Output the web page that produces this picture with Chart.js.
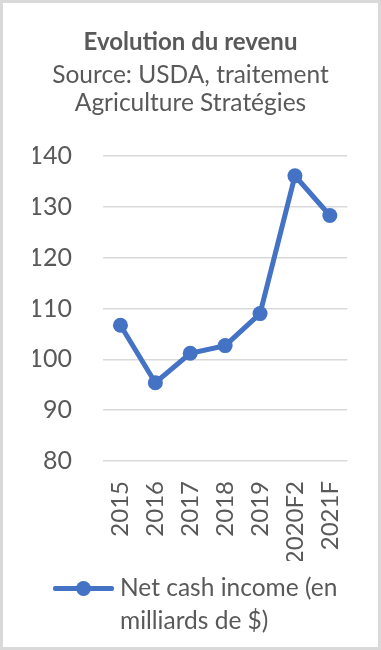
<!DOCTYPE html>
<html><head><meta charset="utf-8">
<script src="https://cdn.jsdelivr.net/npm/chart.js@4"></script>
<style>
html,body{margin:0;padding:0;background:#fff;}
#wrap{position:relative;width:381px;height:650px;overflow:hidden;}
#c{position:absolute;left:0;top:0;}
#frame{position:absolute;left:0;top:0;width:381px;height:650px;box-sizing:border-box;border:3px solid #d9d9d9;pointer-events:none;}
#legend{position:absolute;left:53px;top:570px;font-family:Lato,sans-serif;font-size:24.5px;color:#595959;}
#lgline{position:absolute;left:0;top:16px;width:61px;height:5px;background:#4472C4;border-radius:2px;}
#lgdot{position:absolute;left:23px;top:11px;width:15px;height:15px;border-radius:50%;background:#4472C4;}
#lgtext{position:absolute;left:67px;top:0;white-space:nowrap;line-height:33px;margin-top:0px;}
</style></head>
<body>
<div id="wrap">
<canvas id="c" width="381" height="650"></canvas>
<div id="legend"><div id="lgline"></div><div id="lgdot"></div><div id="lgtext">Net cash income (en<br>milliards de $)</div></div>
<div id="frame"></div>
</div>
<script>
const categories = ["2015","2016","2017","2018","2019","2020F2","2021F"];
const netCashIncome = [106.7, 95.4, 101.2, 102.7, 109.0, 136.1, 128.3];
const seriesLabel = "Net cash income (en milliards de $)";
const titleText = "Evolution du revenu";
const subtitleLines = ["Source: USDA, traitement", "Agriculture Stratégies"];

const grey = "#595959";
new Chart(document.getElementById('c'), {
  type: 'line',
  data: {
    labels: categories,
    datasets: [{
      label: seriesLabel,
      data: netCashIncome,
      borderColor: '#4472C4',
      backgroundColor: '#4472C4',
      borderWidth: 5,
      pointRadius: 7.5,
      pointHoverRadius: 7.5,
      pointBorderWidth: 0,
      tension: 0
    }]
  },
  options: {
    responsive: false,
    animation: false,
    events: [],
    layout: { padding: { top: 0, left: 33, right: 33, bottom: 89 } },
    plugins: {
      legend: { display: false },
      tooltip: { enabled: false },
      title: {
        display: true, text: titleText, color: grey,
        font: { family: 'Lato', size: 24, weight: 'bold', lineHeight: 1.2 },
        padding: { top: 28, bottom: 4.2 }
      },
      subtitle: {
        display: true, text: subtitleLines, color: grey,
        font: { family: 'Lato', size: 24.5, weight: 'normal', lineHeight: 28/24.5 },
        padding: { top: 0, bottom: 39 }
      }
    },
    scales: {
      x: {
        offset: true,
        grid: { display: false, drawTicks: false, offset: true },
        border: { display: false },
        ticks: { color: grey, font: { family: 'Lato', size: 24 }, maxRotation: 90, minRotation: 90, padding: 20, autoSkip: false },
        afterFit: (s) => { s.height = 100; }
      },
      y: {
        min: 80, max: 140,
        grid: { color: '#d9d9d9', lineWidth: 1.5, drawTicks: false },
        border: { display: false },
        ticks: { stepSize: 10, color: grey, font: { family: 'Lato', size: 25 }, padding: 31 },
        afterFit: (s) => { s.width = 70; }
      }
    }
  }
});
</script>
</body></html>
